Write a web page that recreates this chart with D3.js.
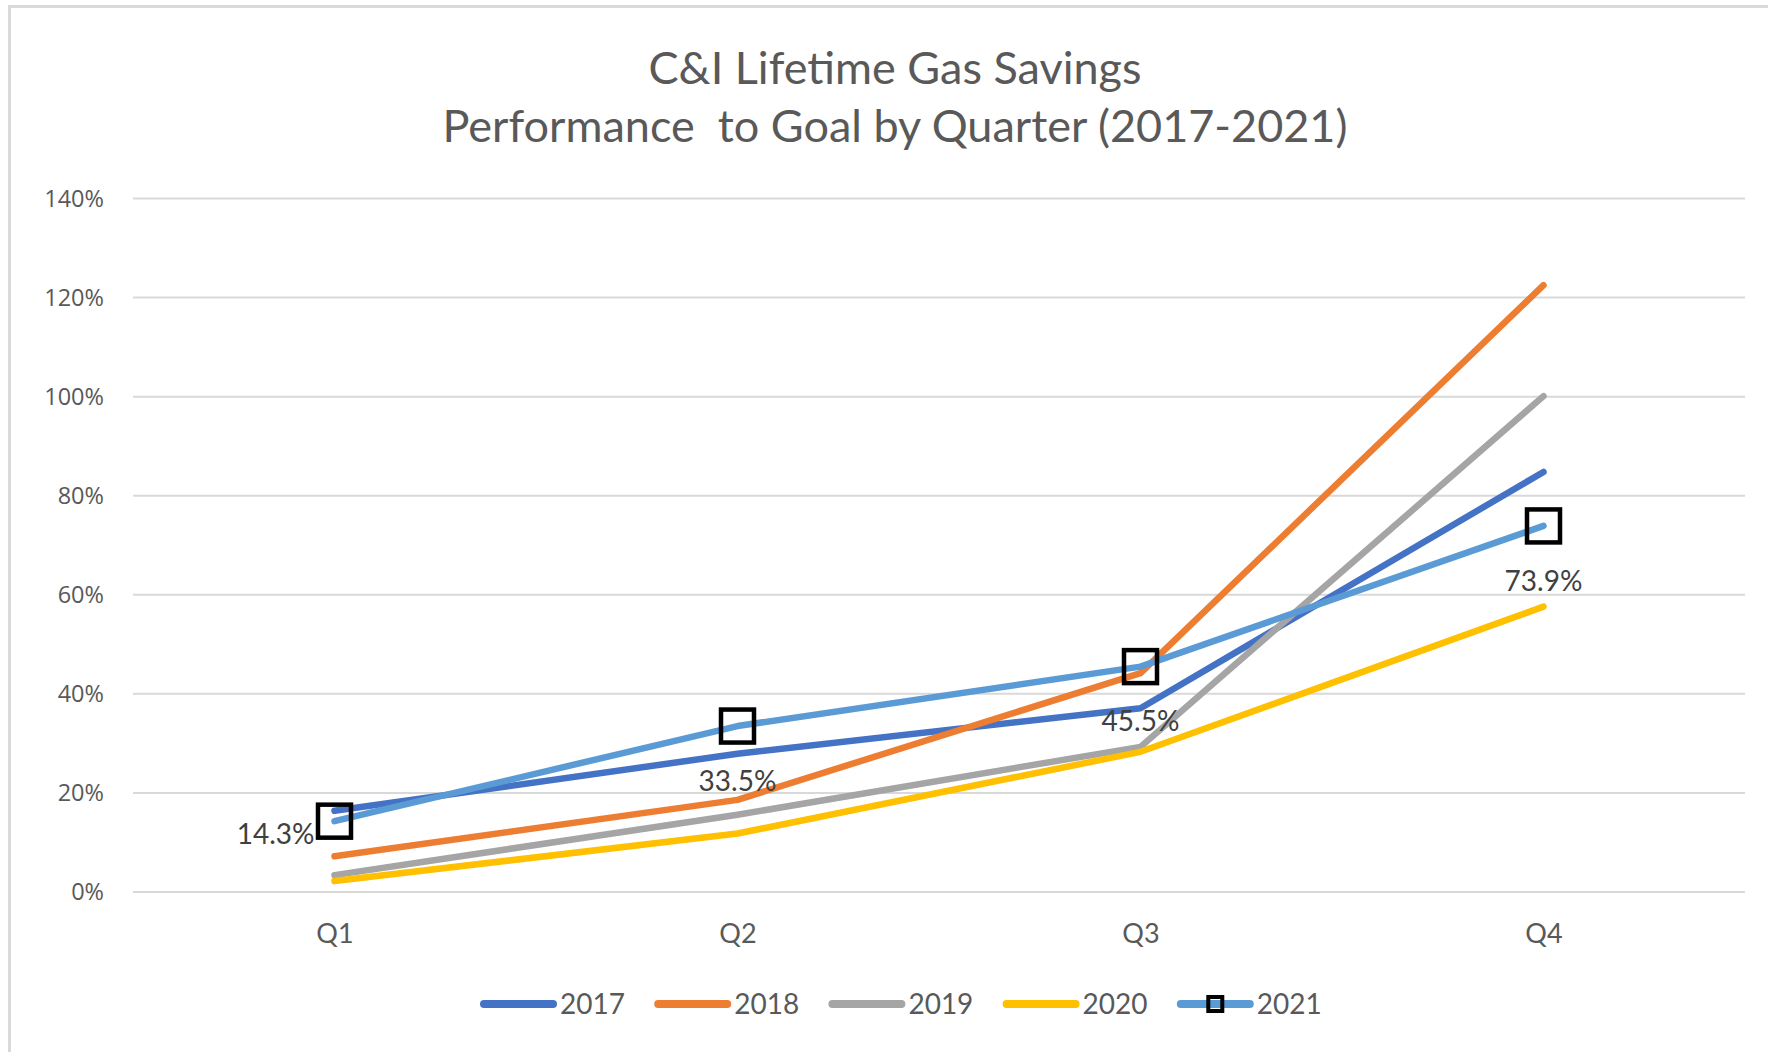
<html>
<head>
  <style>
    body { margin: 0; background: #fff; }
    svg text { font-family: Lato, "Open Sans", sans-serif; fill: #595959; }
    svg .grid line { stroke: #D9D9D9; stroke-width: 2px; }
    svg .y-axis text { font-family: "Open Sans", sans-serif; font-size: 23.5px; }
    svg .series { fill: none; stroke-width: 6.5px; stroke-linecap: round; stroke-linejoin: round; }
  </style>
</head>
<body>
  <div id="chart"></div>
  <script src="https://cdn.jsdelivr.net/npm/d3@7"></script>
  <script>
(function () {
  // chart data (percent of goal)
  var quarters = ["Q1", "Q2", "Q3", "Q4"];
  var years    = ["2017", "2018", "2019", "2020", "2021"];
  var colors   = ["#4472C4", "#ED7D31", "#A5A5A5", "#FFC000", "#5B9BD5"];
  var v2017 = [16.4, 27.9, 37.1, 84.8];
  var v2018 = [7.2, 18.6, 44.2, 122.5];
  var v2019 = [3.4, 15.6, 29.3, 100.1];
  var v2020 = [2.2, 11.8, 28.3, 57.6];
  var v2021 = [14.3, 33.5, 45.5, 73.9];
  var yTicks = [0, 20, 40, 60, 80, 100, 120, 140];
  var titleLines = ["C&I Lifetime Gas Savings", "Performance  to Goal by Quarter (2017-2021)"];

  var seriesValues = [v2017, v2018, v2019, v2020, v2021];

  var W = 1768, H = 1052;
  var plot = { left: 133, right: 1745, top: 198.5, bottom: 892 };

  var svg = d3.select("#chart")
    .append("svg")
      .attr("width", W)
      .attr("height", H);

  // outer chart frame
  svg.append("rect")
      .attr("x", 9.5)
      .attr("y", 6.5)
      .attr("width", W + 20)
      .attr("height", H + 20)
      .style("fill", "#fff")
      .style("stroke", "#D9D9D9")
      .style("stroke-width", "3px");

  // title
  svg.append("text")
      .attr("x", 895)
      .attr("y", 84)
      .style("text-anchor", "middle")
      .style("font-size", "45px")
      .text(titleLines[0]);
  svg.append("text")
      .attr("x", 895)
      .attr("y", 142)
      .style("text-anchor", "middle")
      .style("font-size", "45px")
      .style("white-space", "pre")
      .text(titleLines[1]);

  // scales
  var xScale = d3.scalePoint().domain(quarters).range([plot.left, plot.right]).padding(0.5);
  var yScale = d3.scaleLinear().domain([0, 140]).range([plot.bottom, plot.top]);

  // horizontal grid lines
  svg.append("g")
      .classed("grid", true)
    .selectAll("line")
    .data(yTicks)
    .enter().append("line")
      .attr("x1", plot.left)
      .attr("x2", plot.right)
      .attr("y1", function (d) { return yScale(d); })
      .attr("y2", function (d) { return yScale(d); });

  // y axis
  var yAxis = d3.axisLeft(yScale)
      .tickValues(yTicks)
      .tickSize(0)
      .tickPadding(29)
      .tickFormat(function (d) { return d + "%"; });

  svg.append("g")
      .classed("y-axis", true)
      .attr("transform", "translate(" + plot.left + ",0)")
      .call(yAxis)
      .call(function (g) { g.select(".domain").remove(); });

  // x axis
  var xAxis = d3.axisBottom(xScale).tickSize(0).tickPadding(0);

  var xa = svg.append("g")
      .classed("x-axis", true)
      .attr("transform", "translate(0," + plot.bottom + ")")
      .call(xAxis);
  xa.select(".domain").remove();
  xa.selectAll("text")
      .attr("y", 42)
      .attr("dy", "0.35em")
      .style("font-family", "Lato, sans-serif")
      .style("font-size", "27px")
      .style("fill", "#595959");

  // lines
  var line = d3.line()
    .x(function (d, i) { return xScale(quarters[i]); })
    .y(function (d) { return yScale(d); });

  svg.selectAll("path.series")
    .data(seriesValues)
    .enter().append("path")
      .classed("series", true)
      .attr("d", function (d) { return line(d); })
      .style("stroke", function (d, i) { return colors[i]; });

  // 2021 markers
  svg.selectAll("rect.marker")
    .data(v2021)
    .enter().append("rect")
      .classed("marker", true)
      .attr("x", function (d, i) { return xScale(quarters[i]) - 16.5; })
      .attr("y", function (d) { return yScale(d) - 16.5; })
      .attr("width", 33)
      .attr("height", 33)
      .style("fill", "none")
      .style("stroke", "#000")
      .style("stroke-width", "4.5px");

  // 2021 data labels
  svg.selectAll("text.dlabel")
    .data(v2021)
    .enter().append("text")
      .classed("dlabel", true)
      .attr("x", function (d, i) { return i === 0 ? xScale(quarters[i]) - 20 : xScale(quarters[i]); })
      .attr("y", function (d, i) { return i === 0 ? yScale(d) + 13 : yScale(d) + 55; })
      .attr("dy", "0.35em")
      .style("text-anchor", function (d, i) { return i === 0 ? "end" : "middle"; })
      .style("font-size", "28px")
      .style("fill", "#404040")
      .text(function (d) { return d.toFixed(1) + "%"; });

  // legend
  var legend = svg.append("g")
      .attr("transform", "translate(480,1004)");

  var item = legend.selectAll("g.item")
    .data(years)
    .enter().append("g")
      .classed("item", true)
      .attr("transform", function (d, i) { return "translate(" + (i * 174.2) + ",0)"; });

  item.append("line")
      .attr("x1", 4)
      .attr("x2", 73)
      .style("stroke", function (d, i) { return colors[i]; })
      .style("stroke-width", "8px")
      .style("stroke-linecap", "round");

  item.filter(function (d) { return d === "2021"; })
    .append("rect")
      .attr("x", 31.5)
      .attr("y", -7)
      .attr("width", 14)
      .attr("height", 14)
      .style("fill", "none")
      .style("stroke", "#000")
      .style("stroke-width", "4px");

  item.append("text")
      .attr("x", 80)
      .attr("dy", "0.36em")
      .style("font-size", "28px")
      .text(function (d) { return d; });
})();
  </script>
</body>
</html>
